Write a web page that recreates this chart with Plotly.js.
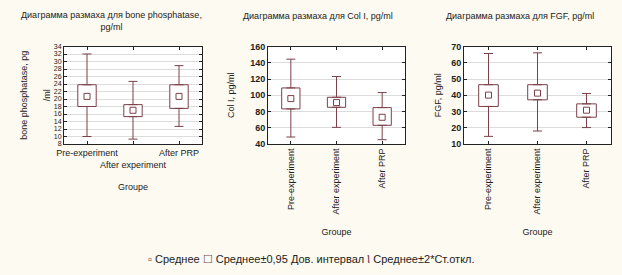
<!DOCTYPE html>
<html><head><meta charset="utf-8">
<script src="https://cdn.plot.ly/plotly-3.0.1.min.js"></script>
<style>html,body{margin:0;padding:0;background:#fdfaf1}</style>
</head><body><div id="chart" style="width:622px;height:275px"></div>
<script>
const categories = ["Pre-experiment", "After experiment", "After PRP"];

const bpMean   = [20.7, 17.0, 20.7];
const bpCiLow  = [18.0, 15.3, 17.5];
const bpCiHigh = [23.8, 18.5, 23.8];
const bpSdLow  = [10.0, 9.3, 12.7];
const bpSdHigh = [32.0, 24.7, 28.9];

const colMean   = [95.9, 91.0, 72.9];
const colCiLow  = [83.2, 85.2, 63.0];
const colCiHigh = [109.0, 97.5, 84.8];
const colSdLow  = [48.6, 60.5, 45.3];
const colSdHigh = [144.4, 123.0, 103.3];

const fgfMean   = [40.1, 41.3, 30.8];
const fgfCiLow  = [33.1, 37.2, 26.5];
const fgfCiHigh = [46.5, 46.5, 34.7];
const fgfSdLow  = [14.7, 18.0, 20.1];
const fgfSdHigh = [65.7, 66.1, 41.1];

const bpTickText = ["Pre-experiment", "<br>After experiment", "After PRP"];

const C = '#7b4049';
const FONT = 'Liberation Sans, Arial, sans-serif';

function panel(mean, lo, hi, sdLo, sdHi, xa, ya) {
  const boxes = {
    type: 'bar', x: categories, base: lo, y: hi.map((v, i) => v - lo[i]),
    width: 0.4, marker: {color: '#ffffff', line: {color: C, width: 1}},
    xaxis: xa, yaxis: ya, showlegend: false, hoverinfo: 'skip'
  };
  const up = {
    type: 'scatter', mode: 'markers', x: categories, y: hi,
    marker: {size: 1, color: 'rgba(0,0,0,0)'},
    error_y: {type: 'data', symmetric: false, array: sdHi.map((v, i) => v - hi[i]),
      arrayminus: hi.map(() => 0), color: C, thickness: 1, width: 4.5},
    xaxis: xa, yaxis: ya, showlegend: false, hoverinfo: 'skip'
  };
  const down = {
    type: 'scatter', mode: 'markers', x: categories, y: lo,
    marker: {size: 1, color: 'rgba(0,0,0,0)'},
    error_y: {type: 'data', symmetric: false, array: lo.map(() => 0),
      arrayminus: lo.map((v, i) => v - sdLo[i]), color: C, thickness: 1, width: 4.5},
    xaxis: xa, yaxis: ya, showlegend: false, hoverinfo: 'skip'
  };
  const m = {
    type: 'scatter', mode: 'markers', x: categories, y: mean,
    marker: {symbol: 'square', size: 6, color: '#ffffff', line: {color: C, width: 1}},
    xaxis: xa, yaxis: ya, showlegend: false
  };
  return [boxes, up, down, m];
}

const data = [].concat(
  panel(bpMean, bpCiLow, bpCiHigh, bpSdLow, bpSdHigh, 'x', 'y'),
  panel(colMean, colCiLow, colCiHigh, colSdLow, colSdHigh, 'x2', 'y2'),
  panel(fgfMean, fgfCiLow, fgfCiHigh, fgfSdLow, fgfSdHigh, 'x3', 'y3')
);

const yDom = [(275 - 144) / 275, (275 - 46.5) / 275];
function xax(dom, rot, ticktext, standoff) {
  const a = {
    domain: dom, type: 'category', range: [-0.5, 2.5],
    showline: true, linecolor: '#222', linewidth: 1, mirror: 'ticks',
    ticks: 'inside', ticklen: 3, tickcolor: '#222',
    showgrid: false, zeroline: false,
    tickfont: {family: FONT, size: 9, color: '#222'},
    tickangle: rot,
    title: {text: 'Groupe', font: {family: FONT, size: 9, color: '#222'}, standoff: standoff}
  };
  if (ticktext) { a.tickmode = 'array'; a.tickvals = categories; a.ticktext = ticktext; }
  return a;
}
function yax(dom, range, dtick, title, standoff, fsize, bold) {
  return {
    domain: dom, range: range, dtick: dtick, tick0: range[0],
    showline: true, linecolor: '#222', linewidth: 1, mirror: 'ticks',
    ticks: 'inside', ticklen: 3, tickcolor: '#222',
    showgrid: true, gridcolor: '#dcdcdc', gridwidth: 1, zeroline: false,
    tickfont: {family: FONT, size: fsize, color: '#222', weight: bold ? 'bold' : 'normal'},
    title: {text: title, font: {family: FONT, size: 9, color: '#222'}, standoff: standoff}
  };
}

const layout = {
  width: 622, height: 275,
  margin: {l: 0, r: 0, t: 0, b: 0},
  paper_bgcolor: '#fdfaf1', plot_bgcolor: '#ffffff',
  barmode: 'overlay', showlegend: false,
  xaxis: xax([64 / 622, 202 / 622], 0, bpTickText, 15),
  xaxis2: xax([268 / 622, 405 / 622], -90, null, 15),
  xaxis3: xax([464 / 622, 611 / 622], -90, null, 15),
  yaxis: Object.assign(yax(yDom, [8, 34], 2, 'bone phosphatase, pg<br><br>/ml', 1, 7, false), {anchor: 'x'}),
  yaxis2: Object.assign(yax(yDom, [40, 160], 20, 'Col I, pg/ml', 14, 9, true), {anchor: 'x2'}),
  yaxis3: Object.assign(yax(yDom, [10, 70], 10, 'FGF, pg/ml', 8, 9, true), {anchor: 'x3'}),
  annotations: [
    {text: 'Диаграмма размаха для bone phosphatase,<br>pg/ml', x: 111 / 622, y: 1 - 21 / 275,
     xanchor: 'center', yanchor: 'middle',
     xref: 'paper', yref: 'paper', showarrow: false, font: {family: FONT, size: 9, color: '#222'}},
    {text: 'Диаграмма размаха для Col I, pg/ml', x: 318 / 622, y: 1 - 16 / 275,
     xanchor: 'center', yanchor: 'middle',
     xref: 'paper', yref: 'paper', showarrow: false, font: {family: FONT, size: 9, color: '#222'}},
    {text: 'Диаграмма размаха для FGF, pg/ml', x: 520 / 622, y: 1 - 16 / 275,
     xanchor: 'center', yanchor: 'middle',
     xref: 'paper', yref: 'paper', showarrow: false, font: {family: FONT, size: 9, color: '#222'}},
    {text: '<span style="color:' + C + '">▫</span> Среднее <span style="color:' + C + '">☐</span> Среднее±0,95 Дов. интервал <span style="color:' + C + '">Ⲓ</span> Среднее±2*Ст.откл.',
     x: 311 / 622, y: 1 - 259 / 275, xanchor: 'center', yanchor: 'middle',
     xref: 'paper', yref: 'paper', showarrow: false,
     font: {family: FONT, size: 11, color: '#222'}}
  ]
};
layout.xaxis.anchor = 'y';
layout.xaxis2.anchor = 'y2';
layout.xaxis3.anchor = 'y3';

Plotly.newPlot('chart', data, layout, {staticPlot: true, displayModeBar: false});
</script></body></html>
